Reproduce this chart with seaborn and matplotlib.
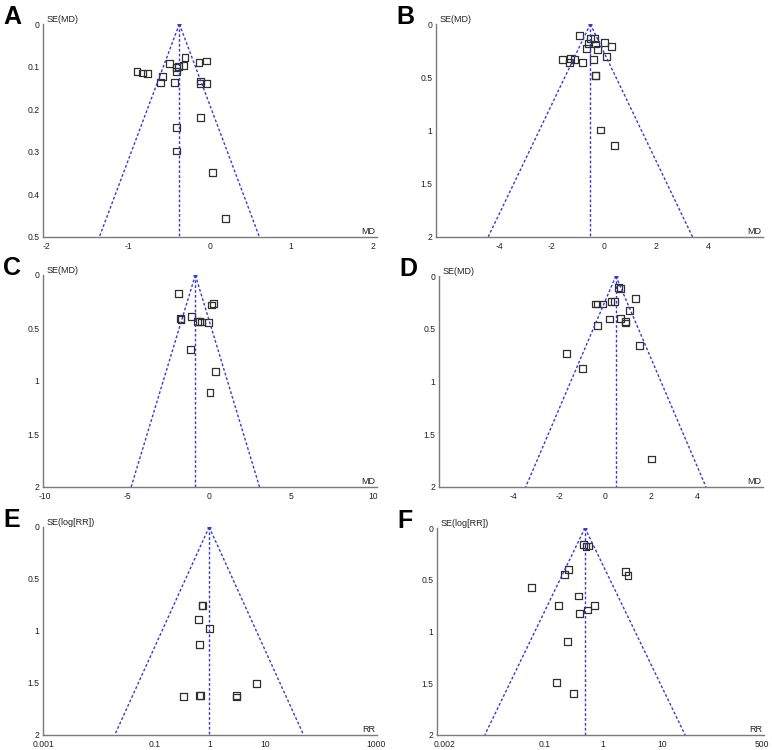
import numpy as np
import pandas as pd
import seaborn as sns
import matplotlib.pyplot as plt

# study estimates (effect, standard error)
a_md = [-0.89, -0.82, -0.76, -0.58, -0.60, -0.49, -0.43, -0.41, -0.41, -0.38, -0.32, -0.30,
        -0.13, -0.04, -0.11, -0.11, -0.04, -0.11, -0.41, -0.41, 0.04, 0.19]
a_se = [0.112, 0.115, 0.116, 0.124, 0.137, 0.093, 0.137, 0.103, 0.112, 0.099, 0.097, 0.078,
        0.090, 0.087, 0.134, 0.140, 0.140, 0.220, 0.243, 0.298, 0.348, 0.456]

b_md = [-0.93, -0.52, -0.37, -0.61, -0.32, 0.03, 0.29, -0.68, -0.24, 0.09, -1.58, -1.29,
        -1.33, -1.12, -0.83, -0.40, -0.32, -0.31, -0.13, 0.40]
b_se = [0.107, 0.138, 0.138, 0.182, 0.188, 0.173, 0.213, 0.229, 0.242, 0.308, 0.336, 0.327,
        0.364, 0.336, 0.358, 0.336, 0.480, 0.487, 0.995, 1.143]

c_md = [-1.85, -1.75, -1.71, -1.06, -1.14, -0.69, -0.59, -0.45, -0.06, 0.16, 0.26, 0.37, 0.06]
c_se = [0.173, 0.409, 0.419, 0.391, 0.706, 0.441, 0.441, 0.444, 0.450, 0.283, 0.268, 0.913, 1.106]

d_md = [0.57, 0.67, 1.30, -0.43, -0.36, -0.10, 0.25, 0.41, 1.06, 0.20, 0.68, 0.88, 0.88,
        -0.35, 1.49, -1.70, -0.99, 2.00]
d_se = [0.110, 0.120, 0.211, 0.265, 0.265, 0.265, 0.240, 0.240, 0.325, 0.407, 0.401, 0.429,
        0.445, 0.473, 0.662, 0.732, 0.874, 1.735]

e_rr = [0.72, 0.74, 0.625, 1.0, 0.64, 0.336, 0.64, 0.67, 3.02, 3.02, 6.93]
e_se = [0.751, 0.751, 0.890, 0.978, 1.126, 1.631, 1.618, 1.618, 1.621, 1.634, 1.505]

f_rr = [0.47, 0.51, 0.556, 0.257, 0.217, 2.43, 2.63, 0.0597, 0.376, 0.174, 0.72, 0.54,
        0.40, 0.244, 0.163, 0.313]
f_se = [0.158, 0.180, 0.174, 0.404, 0.452, 0.417, 0.458, 0.578, 0.657, 0.752, 0.752, 0.793,
        0.825, 1.093, 1.491, 1.602]

# pooled estimates (funnel apex)
pooled = {"A": -0.37, "B": -0.52, "C": -0.84, "D": 0.46, "E": 0.97, "F": 0.49}

sns.set_theme(style="white")
plt.rcParams["font.family"] = ["Liberation Sans", "DejaVu Sans"]

W, H = 772, 750
fig = plt.figure(figsize=(W / 100, H / 100), dpi=100)

AXIS_GREY = "#7a7a7a"
FUNNEL_BLUE = "#3a3ad0"


def funnel(box, letter, x, se, ymax, yticks, ylabels, xlim, xticks, xlabels,
           ylab, xlab, log=False):
    l, t, r, b = box
    ax = fig.add_axes([l / W, 1 - b / H, (r - l) / W, (b - t) / H])
    df = pd.DataFrame({"x": x, "se": se})
    sns.scatterplot(data=df, x="x", y="se", ax=ax, marker="s", s=24,
                    facecolor="none", edgecolor="#303030", linewidth=0.9)
    c = pooled[letter]
    if log:
        ax.set_xscale("log")
        lo, hi = c * np.exp(-1.96 * ymax), c * np.exp(1.96 * ymax)
    else:
        lo, hi = c - 1.96 * ymax, c + 1.96 * ymax
    ax.plot([c, lo], [0, ymax], ls=(0, (2, 1.5)), color=FUNNEL_BLUE, lw=1)
    ax.plot([c, hi], [0, ymax], ls=(0, (2, 1.5)), color=FUNNEL_BLUE, lw=1)
    ax.plot([c, c], [0, ymax], ls=(0, (2, 1.5)), color=FUNNEL_BLUE, lw=1)
    ax.plot([c], [0], marker="o", ms=2, color=FUNNEL_BLUE)

    ax.set_xlim(*xlim)
    ax.set_ylim(ymax, 0)
    ax.set_xticks(xticks)
    ax.set_xticklabels(xlabels)
    ax.set_yticks(yticks)
    ax.set_yticklabels(ylabels)
    ax.minorticks_off()
    ax.tick_params(direction="inout", length=4, width=0.8, color=AXIS_GREY,
                   labelsize=6.2, labelcolor="#222222", pad=0.5)
    ax.tick_params(axis="x", pad=1.4)
    for side in ["top", "right"]:
        ax.spines[side].set_visible(False)
    for side in ["left", "bottom"]:
        ax.spines[side].set_color(AXIS_GREY)
        ax.spines[side].set_linewidth(1)
    ax.set_xlabel("")
    ax.set_ylabel("")
    ax.text(0.012, 1.0, ylab, transform=ax.transAxes, fontsize=6.5,
            ha="left", va="bottom", color="#222222")
    ax.text(0.995, 0.004, xlab, transform=ax.transAxes, fontsize=6.5,
            ha="right", va="bottom", color="#222222")
    fig.text((l - 40) / W, 1 - (t - 19) / H, letter, fontsize=18,
             fontweight="bold", ha="left", va="top", color="black")
    return ax


se_ticks = [0, 0.5, 1, 1.5, 2]
se_labels = ["0", "0.5", "1", "1.5", "2"]

funnel((43, 24, 377, 237), "A", a_md, a_se, 0.5,
       [0, 0.1, 0.2, 0.3, 0.4, 0.5], ["0", "0.1", "0.2", "0.3", "0.4", "0.5"],
       (-2.04, 2.05), [-2, -1, 0, 1, 2], ["-2", "-1", "0", "1", "2"],
       "SE(MD)", "MD")
funnel((436, 24, 763, 237), "B", b_md, b_se, 2, se_ticks, se_labels,
       (-6.44, 6.10), [-4, -2, 0, 2, 4], ["-4", "-2", "0", "2", "4"],
       "SE(MD)", "MD")
funnel((43, 275, 377, 487), "C", c_md, c_se, 2, se_ticks, se_labels,
       (-10.14, 10.25), [-10, -5, 0, 5, 10], ["-10", "-5", "0", "5", "10"],
       "SE(MD)", "MD")
funnel((439, 276, 763, 487), "D", d_md, d_se, 2, se_ticks, se_labels,
       (-7.23, 6.86), [-4, -2, 0, 2, 4], ["-4", "-2", "0", "2", "4"],
       "SE(MD)", "MD")
funnel((43, 527, 377, 735), "E", e_rr, e_se, 2, se_ticks, se_labels,
       (0.00098, 1030), [0.001, 0.1, 1, 10, 1000], ["0.001", "0.1", "1", "10", "1000"],
       "SE(log[RR])", "RR", log=True)
funnel((437, 528, 764, 735), "F", f_rr, f_se, 2, se_ticks, se_labels,
       (0.0015, 540), [0.002, 0.1, 1, 10, 500], ["0.002", "0.1", "1", "10", "500"],
       "SE(log[RR])", "RR", log=True)

plt.savefig("out.png", dpi=100)
plt.close()
